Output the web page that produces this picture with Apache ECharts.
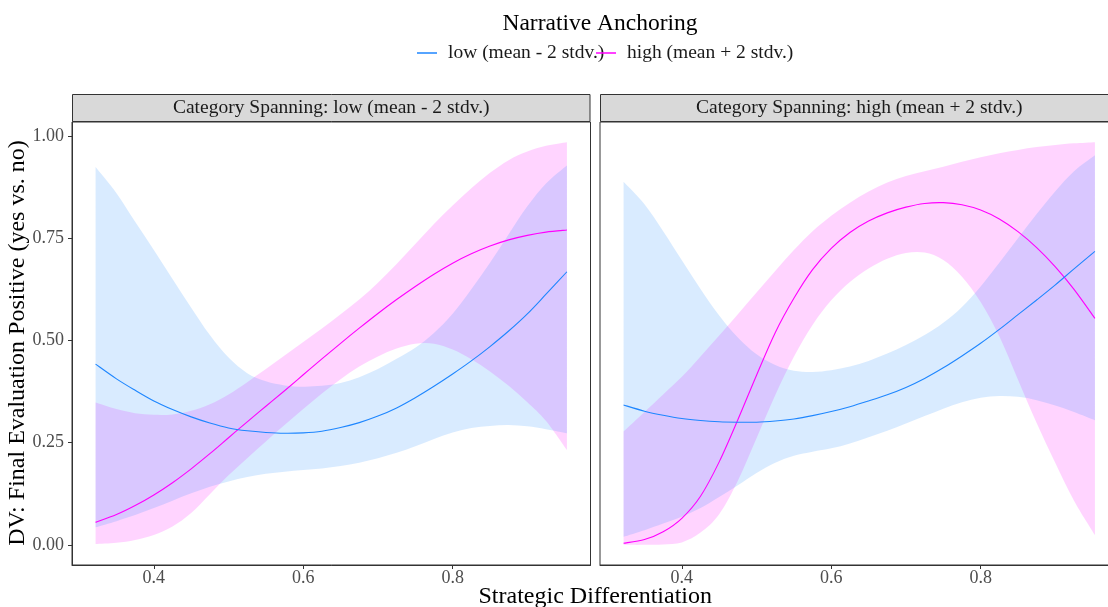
<!DOCTYPE html>
<html>
<head>
<meta charset="utf-8">
<script src="https://cdn.jsdelivr.net/npm/echarts@6/dist/echarts.min.js"></script>
<style>
  html, body { margin: 0; padding: 0; background: #ffffff; }
  #chart { width: 1108px; height: 607px; }
</style>
</head>
<body>
<div id="chart"></div>
<script>
// Strategic differentiation values at which the fitted probabilities are evaluated
const xGrid = [0.322, 0.35, 0.375, 0.4, 0.425, 0.45, 0.475, 0.5, 0.525, 0.55, 0.575, 0.6, 0.625,
               0.65, 0.675, 0.7, 0.725, 0.75, 0.775, 0.8, 0.825, 0.85, 0.875, 0.9, 0.925, 0.953];

const panelTitles = ['Category Spanning: low (mean - 2 stdv.)', 'Category Spanning: high (mean + 2 stdv.)'];
const groupNames = ['low (mean - 2 stdv.)', 'high (mean + 2 stdv.)'];
const legendTitle = 'Narrative Anchoring';
const xTitle = 'Strategic Differentiation';
const yTitle = 'DV: Final Evaluation Positive (yes vs. no)';
const xTicks = [0.4, 0.6, 0.8];
const yTicks = [0, 0.25, 0.5, 0.75, 1];

// Panel 1: category spanning low
const spanLow_anchorLow_fit = [0.442, 0.406, 0.378, 0.352, 0.331, 0.313, 0.298, 0.286, 0.279, 0.275, 0.273, 0.274, 0.278,
                               0.287, 0.299, 0.315, 0.335, 0.360, 0.388, 0.418, 0.450, 0.485, 0.523, 0.565, 0.613, 0.668];
const spanLow_anchorLow_lo  = [0.043, 0.058, 0.073, 0.090, 0.108, 0.126, 0.142, 0.155, 0.166, 0.174, 0.179, 0.183, 0.187,
                               0.193, 0.201, 0.212, 0.225, 0.241, 0.259, 0.275, 0.286, 0.291, 0.293, 0.290, 0.283, 0.273];
const spanLow_anchorLow_hi  = [0.924, 0.860, 0.790, 0.721, 0.650, 0.580, 0.513, 0.458, 0.420, 0.400, 0.390, 0.387, 0.389,
                               0.396, 0.410, 0.430, 0.455, 0.482, 0.518, 0.565, 0.625, 0.690, 0.760, 0.828, 0.884, 0.928];
const spanLow_anchorHigh_fit = [0.055, 0.074, 0.096, 0.122, 0.152, 0.186, 0.223, 0.262, 0.301, 0.339, 0.377, 0.416, 0.455,
                                0.493, 0.530, 0.566, 0.600, 0.632, 0.662, 0.689, 0.712, 0.731, 0.746, 0.757, 0.765, 0.770];
const spanLow_anchorHigh_lo  = [0.002, 0.005, 0.012, 0.024, 0.045, 0.078, 0.124, 0.170, 0.212, 0.253, 0.293, 0.332, 0.370,
                                0.405, 0.436, 0.461, 0.480, 0.492, 0.492, 0.478, 0.454, 0.424, 0.389, 0.349, 0.303, 0.232];
const spanLow_anchorHigh_hi  = [0.348, 0.332, 0.322, 0.318, 0.319, 0.328, 0.344, 0.368, 0.398, 0.430, 0.463, 0.496, 0.529,
                                0.564, 0.600, 0.641, 0.687, 0.736, 0.785, 0.830, 0.872, 0.910, 0.941, 0.962, 0.976, 0.985];

// Panel 2: category spanning high
const spanHigh_anchorLow_fit = [0.342, 0.327, 0.317, 0.309, 0.304, 0.301, 0.300, 0.300, 0.303, 0.308, 0.316, 0.326, 0.338,
                                0.352, 0.367, 0.385, 0.407, 0.433, 0.462, 0.493, 0.527, 0.563, 0.599, 0.636, 0.675, 0.718];
const spanHigh_anchorLow_lo  = [0.020, 0.036, 0.052, 0.069, 0.090, 0.117, 0.146, 0.176, 0.201, 0.218, 0.228, 0.236, 0.248,
                                0.263, 0.279, 0.297, 0.315, 0.333, 0.349, 0.360, 0.364, 0.362, 0.354, 0.341, 0.325, 0.305];
const spanHigh_anchorLow_hi  = [0.888, 0.833, 0.767, 0.696, 0.626, 0.561, 0.507, 0.466, 0.440, 0.426, 0.423, 0.427, 0.436,
                                0.450, 0.468, 0.489, 0.513, 0.543, 0.582, 0.632, 0.690, 0.750, 0.809, 0.865, 0.914, 0.953];
const spanHigh_anchorHigh_fit = [0.004, 0.013, 0.032, 0.065, 0.119, 0.203, 0.306, 0.415, 0.519, 0.603, 0.673, 0.725, 0.764,
                                 0.792, 0.812, 0.826, 0.835, 0.837, 0.832, 0.819, 0.797, 0.766, 0.727, 0.680, 0.625, 0.554];
const spanHigh_anchorHigh_lo  = [0.000, 0.000, 0.001, 0.006, 0.030, 0.075, 0.157, 0.261, 0.366, 0.460, 0.538, 0.598, 0.643,
                                 0.676, 0.700, 0.714, 0.715, 0.697, 0.656, 0.594, 0.510, 0.404, 0.298, 0.200, 0.108, 0.024];
const spanHigh_anchorHigh_hi  = [0.277, 0.325, 0.368, 0.411, 0.461, 0.512, 0.564, 0.617, 0.670, 0.721, 0.767, 0.805, 0.837,
                                 0.864, 0.886, 0.902, 0.914, 0.925, 0.937, 0.948, 0.958, 0.966, 0.973, 0.978, 0.982, 0.985];

const panels = [
  { low:  { fit: spanLow_anchorLow_fit,  lo: spanLow_anchorLow_lo,  hi: spanLow_anchorLow_hi },
    high: { fit: spanLow_anchorHigh_fit, lo: spanLow_anchorHigh_lo, hi: spanLow_anchorHigh_hi } },
  { low:  { fit: spanHigh_anchorLow_fit,  lo: spanHigh_anchorLow_lo,  hi: spanHigh_anchorLow_hi },
    high: { fit: spanHigh_anchorHigh_fit, lo: spanHigh_anchorHigh_lo, hi: spanHigh_anchorHigh_hi } }
];

// ---- styling / layout ----
const FONT = "'Liberation Serif', 'DejaVu Serif', serif";
const COL_LOW = '#1E86FF';
const COL_HIGH = '#FF00FF';
const FILL_LOW = 'rgba(30,136,255,0.17)';
const FILL_HIGH = 'rgba(255,0,255,0.17)';
const PANEL_LEFT = [72, 600];
const PANEL_W = 518.5;
const PANEL_TOP = 122;
const PANEL_H = 443;
const STRIP_TOP = 94;

// shared scales with 5% padding on each side
const xSpan = xGrid[xGrid.length - 1] - xGrid[0];
const xMin = xGrid[0] - 0.05 * xSpan;
const xMax = xGrid[xGrid.length - 1] + 0.05 * xSpan;
const allLo = [].concat(...panels.map(p => [...p.low.lo, ...p.high.lo]));
const allHi = [].concat(...panels.map(p => [...p.low.hi, ...p.high.hi]));
const yLo = Math.min(...allLo), yHi = Math.max(...allHi);
const yMin = yLo - 0.05 * (yHi - yLo);
const yMax = yHi + 0.05 * (yHi - yLo);

const f2 = v => v.toFixed(2);

// Catmull-Rom spline through pixel points, as cubic bezier path commands
function splinePath(pts) {
  let d = '';
  for (let i = 0; i < pts.length - 1; i++) {
    const p0 = pts[Math.max(i - 1, 0)], p1 = pts[i], p2 = pts[i + 1], p3 = pts[Math.min(i + 2, pts.length - 1)];
    const c1 = [p1[0] + (p2[0] - p0[0]) / 6, p1[1] + (p2[1] - p0[1]) / 6];
    const c2 = [p2[0] - (p3[0] - p1[0]) / 6, p2[1] - (p3[1] - p1[1]) / 6];
    d += ' C' + f2(c1[0]) + ' ' + f2(c1[1]) + ' ' + f2(c2[0]) + ' ' + f2(c2[1]) + ' ' + f2(p2[0]) + ' ' + f2(p2[1]);
  }
  return d;
}

// shaded confidence band between lo and hi
function ribbonSeries(k, g, fill) {
  return {
    type: 'custom', xAxisIndex: k, yAxisIndex: k, silent: true, clip: true, z: 2,
    data: [[xGrid[0], g.lo[0]]],
    renderItem: (params, api) => {
      const upper = xGrid.map((x, i) => api.coord([x, g.hi[i]]));
      const lower = xGrid.map((x, i) => api.coord([x, g.lo[i]])).reverse();
      const d = 'M' + f2(upper[0][0]) + ' ' + f2(upper[0][1]) + splinePath(upper) +
                ' L' + f2(lower[0][0]) + ' ' + f2(lower[0][1]) + splinePath(lower) + ' Z';
      return { type: 'path', shape: { pathData: d }, style: { fill: fill, stroke: null } };
    }
  };
}

// fitted probability curve
function fitSeries(k, name, values, color) {
  return {
    name: name, type: 'custom', xAxisIndex: k, yAxisIndex: k, silent: true, clip: true, z: 3,
    itemStyle: { color: color },
    data: [[xGrid[0], values[0]]],
    renderItem: (params, api) => {
      const pts = xGrid.map((x, i) => api.coord([x, values[i]]));
      const d = 'M' + f2(pts[0][0]) + ' ' + f2(pts[0][1]) + splinePath(pts);
      return { type: 'path', shape: { pathData: d }, style: { fill: null, stroke: color, lineWidth: 1.1 } };
    }
  };
}

const grids = [], xAxes = [], yAxes = [], series = [], graphics = [];

panels.forEach((p, k) => {
  grids.push({
    left: PANEL_LEFT[k], top: PANEL_TOP, width: PANEL_W, height: PANEL_H,
    outerBoundsMode: 'none', containLabel: false,
    show: true, backgroundColor: '#ffffff', borderColor: '#333333', borderWidth: 1
  });
  xAxes.push({
    gridIndex: k, type: 'value', min: xMin, max: xMax,
    splitLine: { show: false },
    axisLine: { show: true, onZero: false, lineStyle: { color: '#333333', width: 1 } },
    axisTick: { show: true, length: 4, customValues: xTicks, lineStyle: { color: '#333333' } },
    axisLabel: { customValues: xTicks, formatter: v => v.toFixed(1), color: '#4d4d4d',
                 fontFamily: FONT, fontSize: 18, margin: 4 }
  });
  yAxes.push({
    gridIndex: k, type: 'value', min: yMin, max: yMax,
    splitLine: { show: false },
    axisLine: { show: k === 0, onZero: false, lineStyle: { color: '#333333', width: 1 } },
    axisTick: { show: k === 0, length: 4, customValues: yTicks, lineStyle: { color: '#333333' } },
    axisLabel: { show: k === 0, customValues: yTicks, formatter: v => v.toFixed(2), color: '#4d4d4d',
                 fontFamily: FONT, fontSize: 18, margin: 8 }
  });

  // confidence ribbons (high drawn first, low on top), then the fitted curves
  series.push(ribbonSeries(k, p.high, FILL_HIGH));
  series.push(ribbonSeries(k, p.low, FILL_LOW));
  series.push(fitSeries(k, groupNames[1], p.high.fit, COL_HIGH));
  series.push(fitSeries(k, groupNames[0], p.low.fit, COL_LOW));

  // facet strip
  graphics.push({
    type: 'rect', z: 10,
    shape: { x: PANEL_LEFT[k] + 0.5, y: STRIP_TOP + 0.5, width: PANEL_W - 1, height: PANEL_TOP - STRIP_TOP - 1 },
    style: { fill: '#d9d9d9', stroke: '#333333', lineWidth: 1 }
  });
  graphics.push({
    type: 'text', z: 11,
    x: PANEL_LEFT[k] + PANEL_W / 2, y: (STRIP_TOP + PANEL_TOP) / 2,
    style: { text: panelTitles[k], fontFamily: FONT, fontSize: 19.5, fill: '#1a1a1a',
             align: 'center', verticalAlign: 'middle' }
  });
});

// axis titles shared by both panels
graphics.push({
  type: 'text', x: (PANEL_LEFT[0] + PANEL_LEFT[1] + PANEL_W) / 2, y: 597,
  style: { text: xTitle, fontFamily: FONT, fontSize: 24, fill: '#000000', align: 'center', verticalAlign: 'middle' }
});
graphics.push({
  type: 'text', x: 18, y: 343, rotation: Math.PI / 2,
  style: { text: yTitle, fontFamily: FONT, fontSize: 24, fill: '#000000', align: 'center', verticalAlign: 'middle' }
});

const legendCommon = {
  top: 43, padding: 0, icon: 'rect', itemWidth: 20, itemHeight: 1.5, selectedMode: false,
  textStyle: { fontFamily: FONT, fontSize: 19.5, color: '#1a1a1a', padding: [0, 0, 0, 6] }
};

const option = {
  animation: false,
  backgroundColor: '#ffffff',
  title: {
    text: legendTitle, left: 595, top: 7, textAlign: 'center',
    textStyle: { fontFamily: FONT, fontSize: 23.5, fontWeight: 'normal', color: '#000000' }
  },
  legend: [
    Object.assign({}, legendCommon, { left: 417, data: [groupNames[0]] }),
    Object.assign({}, legendCommon, { left: 596, data: [groupNames[1]] })
  ],
  grid: grids,
  xAxis: xAxes,
  yAxis: yAxes,
  series: series,
  graphic: graphics
};

const chart = echarts.init(document.getElementById('chart'), null, { renderer: 'canvas' });
chart.setOption(option);
</script>
</body>
</html>
